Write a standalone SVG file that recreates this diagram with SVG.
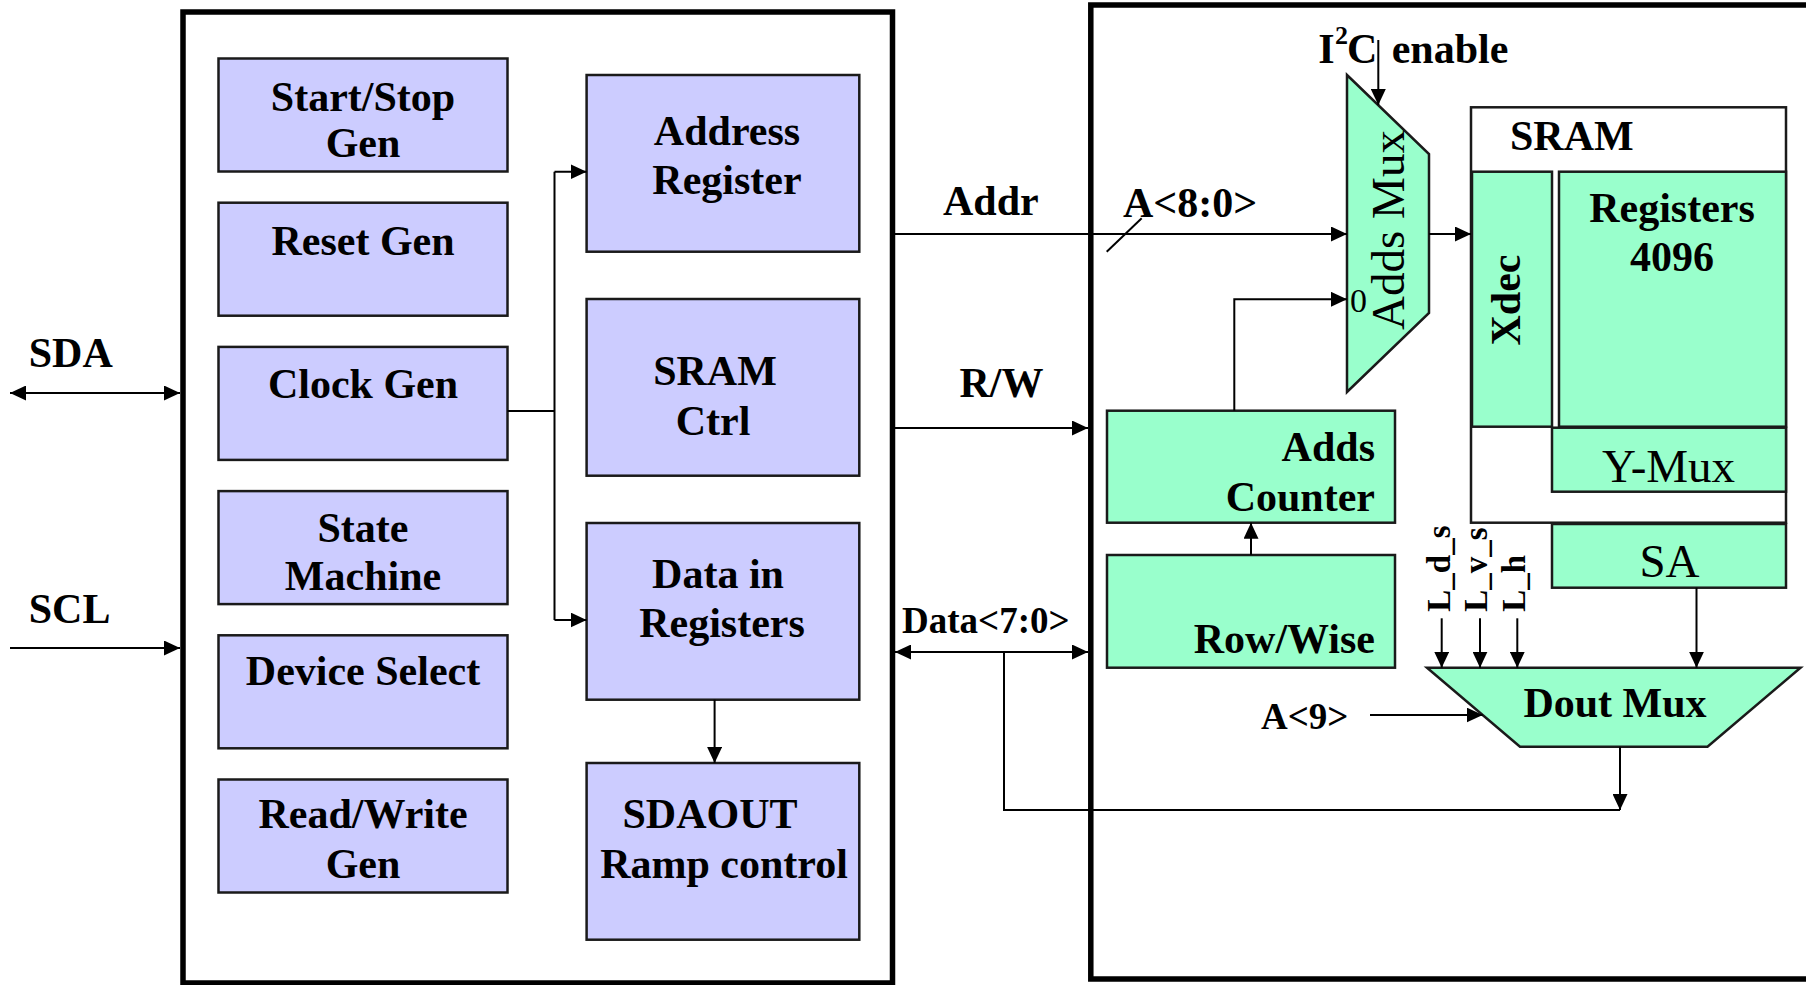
<svg xmlns="http://www.w3.org/2000/svg" width="1806" height="985" viewBox="0 0 1806 985">
<defs>
<marker id="ah" markerUnits="userSpaceOnUse" markerWidth="17" markerHeight="15" refX="16" refY="7.5" orient="auto-start-reverse" viewBox="0 0 17 15">
<path d="M0,0 L16,7.5 L0,15 z" fill="#000"/>
</marker>
<style>
.b{font-family:"Liberation Serif","Times New Roman",serif;font-weight:bold;font-size:42px;fill:#000}
.r{font-family:"Liberation Serif","Times New Roman",serif;font-weight:normal;font-size:47px;fill:#000}
.m{text-anchor:middle}
.e{text-anchor:end}
.p{fill:#CCCCFF;stroke:#1a1a1a;stroke-width:2.5}
.g{fill:#99FFCC;stroke:#1a1a1a;stroke-width:2.5}
.w{fill:#fff;stroke:#1a1a1a;stroke-width:2.5}
.frame{fill:none;stroke:#000;stroke-width:5.5}
.c{fill:none;stroke:#000;stroke-width:2}
.a{marker-end:url(#ah)}
.aa{marker-start:url(#ah);marker-end:url(#ah)}
</style>
</defs>
<rect width="1806" height="985" fill="#fff"/>

<g id="controller-frame"><rect class="frame" x="183" y="12" width="709.5" height="971"/></g>
<g id="memory-frame"><rect class="frame" x="1090.8" y="5" width="730" height="974"/></g>

<g id="start-stop-gen"><rect class="p" x="218.5" y="58.5" width="289" height="113"/><text class="b m" x="363" y="111">Start/Stop</text><text class="b m" x="363" y="157">Gen</text></g>
<g id="reset-gen"><rect class="p" x="218.5" y="202.7" width="289" height="113"/><text class="b m" x="363" y="255">Reset Gen</text></g>
<g id="clock-gen"><rect class="p" x="218.5" y="346.9" width="289" height="113"/><text class="b m" x="363" y="398">Clock Gen</text></g>
<g id="state-machine"><rect class="p" x="218.5" y="491.1" width="289" height="113"/><text class="b m" x="363" y="541.7">State</text><text class="b m" x="363" y="590">Machine</text></g>
<g id="device-select"><rect class="p" x="218.5" y="635.3" width="289" height="113"/><text class="b m" x="363" y="685">Device Select</text></g>
<g id="read-write-gen"><rect class="p" x="218.5" y="779.5" width="289" height="113"/><text class="b m" x="363" y="828.3">Read/Write</text><text class="b m" x="363" y="878.3">Gen</text></g>

<g id="address-register"><rect class="p" x="586.6" y="75" width="272.7" height="176.7"/><text class="b m" x="727" y="145">Address</text><text class="b m" x="727" y="194">Register</text></g>
<g id="sram-ctrl"><rect class="p" x="586.6" y="299" width="272.7" height="176.7"/><text class="b m" x="715" y="385">SRAM</text><text class="b m" x="713" y="435">Ctrl</text></g>
<g id="data-in-registers"><rect class="p" x="586.6" y="523" width="272.7" height="176.7"/><text class="b m" x="718" y="588.3">Data in</text><text class="b m" x="722" y="636.7">Registers</text></g>
<g id="sdaout-ramp"><rect class="p" x="586.6" y="763" width="272.7" height="176.7"/><text class="b m" x="710" y="828.3">SDAOUT</text><text class="b m" x="724" y="878.3">Ramp control</text></g>

<g id="adds-mux"><polygon class="g" points="1347,75 1429,154 1429,313 1347,392"/><text class="r m" transform="translate(1404,230) rotate(-90)">Adds Mux</text><text class="r" x="1350" y="311.7" style="font-size:34px">0</text></g>

<g id="sram"><rect class="w" x="1471" y="107.3" width="315" height="415.4"/><text class="b" x="1510" y="150">SRAM</text></g>
<g id="xdec"><rect class="g" x="1472" y="171.7" width="80" height="255"/><text class="b m" transform="translate(1520,300) rotate(-90)">Xdec</text></g>
<g id="registers-4096"><rect class="g" x="1559" y="171.7" width="227" height="255"/><text class="b m" x="1672" y="221.7">Registers</text><text class="b m" x="1672" y="270.7">4096</text></g>
<g id="y-mux"><rect class="g" x="1552" y="427.7" width="234" height="64"/><text class="r m" x="1668.5" y="481.7">Y-Mux</text></g>
<g id="sa"><rect class="g" x="1552" y="524" width="234" height="63.7"/><text class="r m" x="1669.5" y="577">SA</text></g>

<g id="adds-counter"><rect class="g" x="1107" y="410.7" width="288" height="112"/><text class="b e" x="1375" y="460.7">Adds</text><text class="b e" x="1375" y="510.7">Counter</text></g>
<g id="row-wise"><rect class="g" x="1107" y="555" width="288" height="112.7"/><text class="b e" x="1375" y="653">Row/Wise</text></g>

<g id="dout-mux"><polygon class="g" points="1427,667.7 1800.5,667.7 1707.5,746.7 1520,746.7"/><text class="b m" x="1615" y="716.7">Dout Mux</text></g>

<g id="connectors">
<line class="c aa" x1="10" y1="393" x2="180" y2="393"/>
<line class="c a" x1="10" y1="648" x2="180" y2="648"/>
<line class="c" x1="507.5" y1="411" x2="554.5" y2="411"/>
<line class="c" x1="554.5" y1="171.7" x2="554.5" y2="620"/>
<line class="c a" x1="554.5" y1="171.7" x2="586.6" y2="171.7"/>
<line class="c a" x1="554.5" y1="620" x2="586.6" y2="620"/>
<line class="c a" x1="714.6" y1="699.7" x2="714.6" y2="763"/>
<line class="c a" x1="892.5" y1="234" x2="1347" y2="234"/>
<line class="c" x1="1141.7" y1="218.3" x2="1106.7" y2="251.7"/>
<line class="c a" x1="892.5" y1="428" x2="1088" y2="428"/>
<line class="c aa" x1="895" y1="652" x2="1088" y2="652"/>
<polyline class="c" points="1004,652 1004,810 1620,810"/>
<line class="c a" x1="1620" y1="746.7" x2="1620" y2="810"/>
<line class="c a" x1="1378.3" y1="40" x2="1378.3" y2="105"/>
<line class="c a" x1="1429" y1="234" x2="1471" y2="234"/>
<polyline class="c a" points="1234.3,410.7 1234.3,299.3 1347,299.3"/>
<line class="c a" x1="1251" y1="555" x2="1251" y2="522.7"/>
<line class="c a" x1="1696.5" y1="587.7" x2="1696.5" y2="667.7"/>
<line class="c a" x1="1441.7" y1="618.3" x2="1441.7" y2="667.7"/>
<line class="c a" x1="1480" y1="618.3" x2="1480" y2="667.7"/>
<line class="c a" x1="1517.3" y1="618.3" x2="1517.3" y2="667.7"/>
<line class="c a" x1="1370" y1="715" x2="1482.7" y2="715"/>
</g>

<g id="labels">
<text class="b" x="28.7" y="367">SDA</text>
<text class="b" x="28.7" y="623">SCL</text>
<text class="b" x="943" y="215">Addr</text>
<text class="b" x="1123" y="217">A&lt;8:0&gt;</text>
<text class="b" x="959.5" y="397">R/W</text>
<text class="b" x="902" y="632.7" style="font-size:37px">Data&lt;7:0&gt;</text>
<text class="b" x="1261" y="729" style="font-size:37px">A&lt;9&gt;</text>
<text class="b" y="62.7"><tspan x="1318.3">I</tspan><tspan x="1335" y="44" style="font-size:26px">2</tspan><tspan x="1347" y="62.7">C</tspan><tspan x="1391.7">enable</tspan></text>
<text class="b" transform="translate(1450,611.7) rotate(-90)" style="font-size:33px">L_d_s</text>
<text class="b" transform="translate(1487.3,611.7) rotate(-90)" style="font-size:33px">L_v_s</text>
<text class="b" transform="translate(1525,611.7) rotate(-90)" style="font-size:33px">L_h</text>
</g>
</svg>
